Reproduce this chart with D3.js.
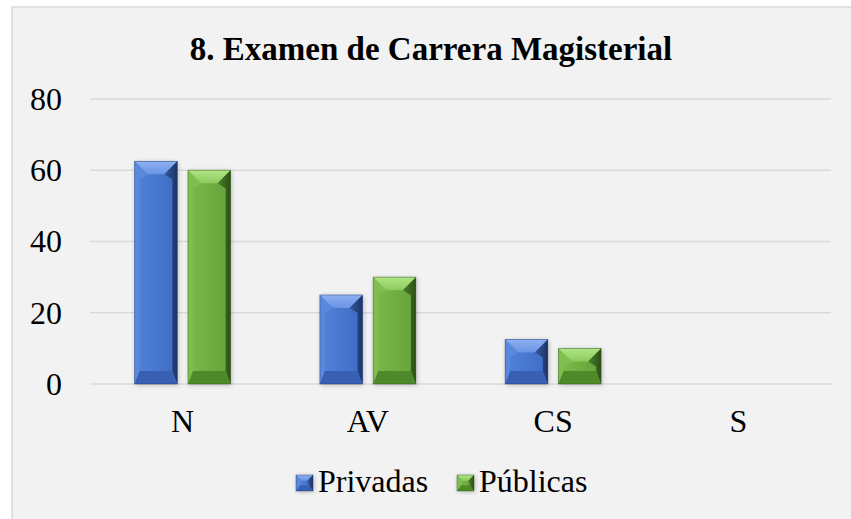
<!DOCTYPE html>
<html>
<head>
<meta charset="utf-8">
<script src="https://cdn.jsdelivr.net/npm/d3@7"></script>
<style>
  html, body { margin: 0; padding: 0; background: #fff; }
  svg text { font-family: 'Liberation Serif', Tinos, 'Times New Roman', Times, 'DejaVu Serif', serif; fill: #000; }
</style>
</head>
<body>
<svg id="chart" width="851" height="519"></svg>
<script>
// data
var categories = ['N', 'AV', 'CS', 'S'];
var seriesNames = ['Privadas', 'Públicas'];
var privadas = [62.5, 25, 12.5, 0];
var publicas = [60, 30, 10, 0];
var yTicks = [0, 20, 40, 60, 80];

var values = [privadas, publicas];
var serif = "'Liberation Serif', Tinos, 'Times New Roman', Times, 'DejaVu Serif', serif";

// bevel palettes
var palettes = [
  {id: 'b', faceL: '#5283da', faceR: '#3e6bc3', top1: '#8db0f2', top2: '#6a93e2',
   left: '#5a88dc', right1: '#34599f', right2: '#1c3466', bottom: '#3760b3'},
  {id: 'g', faceL: '#7abb4a', faceR: '#64a238', top1: '#b0e585', top2: '#8ccb5e',
   left: '#7fbf50', right1: '#4b7f2a', right2: '#2c4f16', bottom: '#4f8a2a'}
];

var svg = d3.select('#chart');
var defs = svg.append('defs');

palettes.forEach(function(p) {
  var gf = defs.append('linearGradient').attr('id', 'face-' + p.id)
      .attr('x1', 0).attr('x2', 1).attr('y1', 0).attr('y2', 0);
  gf.append('stop').attr('offset', 0).attr('stop-color', p.faceL);
  gf.append('stop').attr('offset', 1).attr('stop-color', p.faceR);
  var gt = defs.append('linearGradient').attr('id', 'top-' + p.id)
      .attr('x1', 0).attr('x2', 0).attr('y1', 0).attr('y2', 1);
  gt.append('stop').attr('offset', 0).attr('stop-color', p.top1);
  gt.append('stop').attr('offset', 1).attr('stop-color', p.top2);
  var gr = defs.append('linearGradient').attr('id', 'right-' + p.id)
      .attr('x1', 0).attr('x2', 1).attr('y1', 0).attr('y2', 0);
  gr.append('stop').attr('offset', 0).attr('stop-color', p.right1);
  gr.append('stop').attr('offset', 1).attr('stop-color', p.right2);
});

// shadow filter
var f = defs.append('filter').attr('id', 'shadow')
    .attr('x', '-20%').attr('y', '-20%').attr('width', '140%').attr('height', '140%');
f.append('feGaussianBlur').attr('in', 'SourceAlpha').attr('stdDeviation', 2.5);
f.append('feOffset').attr('dx', 1).attr('dy', 1).attr('result', 'b');
f.append('feComponentTransfer').append('feFuncA').attr('type', 'linear').attr('slope', 0.25);
var fm = f.append('feMerge');
fm.append('feMergeNode');
fm.append('feMergeNode').attr('in', 'SourceGraphic');

// chart area background and frame
svg.append('rect')
    .attr('x', 12).attr('y', 7)
    .attr('width', 851).attr('height', 519)
    .attr('fill', '#f2f2f2')
    .attr('stroke', '#d9d9d9')
    .attr('stroke-width', 1.5);

var plot = {left: 90, right: 831, top: 99, bottom: 384};

var x0 = d3.scaleBand()
    .domain(categories)
    .range([plot.left, plot.right])
    .paddingInner(0.482)
    .paddingOuter(0.241);

var x1 = d3.scaleBand()
    .domain(seriesNames)
    .range([0, x0.bandwidth()])
    .paddingInner(0.2);

var y = d3.scaleLinear()
    .domain([0, 80])
    .range([plot.bottom, plot.top]);

// grid lines
svg.append('g')
  .selectAll('line')
    .data(yTicks)
  .enter().append('line')
    .attr('x1', plot.left)
    .attr('x2', plot.right)
    .attr('y1', function(d) { return y(d); })
    .attr('y2', function(d) { return y(d); })
    .attr('stroke', '#d9d9d9')
    .attr('stroke-width', 1.5);

// y axis labels
var yAxis = d3.axisLeft(y).tickValues(yTicks).tickSize(0).tickPadding(0);
var yg = svg.append('g')
    .attr('transform', 'translate(62,0)')
    .call(yAxis)
    .attr('font-family', serif)
    .attr('font-size', 32);
yg.select('.domain').remove();
yg.selectAll('text').attr('fill', '#000');

// x axis labels
var xAxis = d3.axisBottom(x0).tickSize(0).tickPadding(0);
var xg = svg.append('g')
    .attr('transform', 'translate(0,' + plot.bottom + ')')
    .call(xAxis)
    .attr('font-family', serif)
    .attr('font-size', 32);
xg.select('.domain').remove();
xg.selectAll('text')
    .attr('fill', '#000')
    .attr('dy', null)
    .attr('y', 48);

// draw a bevelled box
function bevel(g, bx, by, bw, bh, pal, size) {
  var b = Math.min(size, bw / 3, bh / 2);
  var sb = Math.min(5, bw / 4);
  var xr = bx + bw, yb = by + bh;
  var pts = function(a) { return a.map(function(p) { return p.join(','); }).join(' '); };
  g.append('rect').attr('x', bx).attr('y', by).attr('width', bw).attr('height', bh)
      .attr('fill', 'url(#face-' + pal.id + ')').attr('filter', 'url(#shadow)');
  g.append('polygon').attr('fill', 'url(#top-' + pal.id + ')')
      .attr('points', pts([[bx, by], [xr, by], [xr - b, by + b], [bx + b, by + b]]));
  g.append('polygon').attr('fill', pal.left)
      .attr('points', pts([[bx, by], [bx + b, by + b], [bx + sb, by + b + sb], [bx + sb, yb - b], [bx, yb]]));
  g.append('polygon').attr('fill', 'url(#right-' + pal.id + ')')
      .attr('points', pts([[xr, by], [xr, yb], [xr - sb, yb - b], [xr - sb, by + b + sb], [xr - b, by + b]]));
  g.append('polygon').attr('fill', pal.bottom)
      .attr('points', pts([[bx, yb], [bx + sb, yb - b], [xr - sb, yb - b], [xr, yb]]));
  g.append('rect').attr('x', bx).attr('y', by).attr('width', bw).attr('height', bh)
      .attr('fill', 'none').attr('stroke', pal.right2).attr('stroke-opacity', 0.5).attr('stroke-width', 0.8);
}

// bars
var bars = svg.append('g');
categories.forEach(function(c, i) {
  seriesNames.forEach(function(s, j) {
    var v = values[j][i];
    if (v <= 0) return;
    var bx = x0(c) + x1(s);
    var by = y(v);
    bevel(bars.append('g'), bx, by, x1.bandwidth(), y(0) - by, palettes[j], 13);
  });
});

// title
svg.append('text')
    .attr('x', 431)
    .attr('y', 60)
    .attr('text-anchor', 'middle')
    .attr('font-family', serif)
    .attr('font-size', 33)
    .attr('font-weight', 'bold')
    .text('8. Examen de Carrera Magisterial');

// legend
var legendX = [296, 457];
var legend = svg.append('g');
seriesNames.forEach(function(s, j) {
  var g = legend.append('g');
  bevel(g, legendX[j], 475, 17, 16, palettes[j], 6);
  g.append('text')
      .attr('x', legendX[j] + 22)
      .attr('y', 492)
      .attr('font-family', serif)
      .attr('font-size', 32)
      .text(s);
});
</script>
</body>
</html>
